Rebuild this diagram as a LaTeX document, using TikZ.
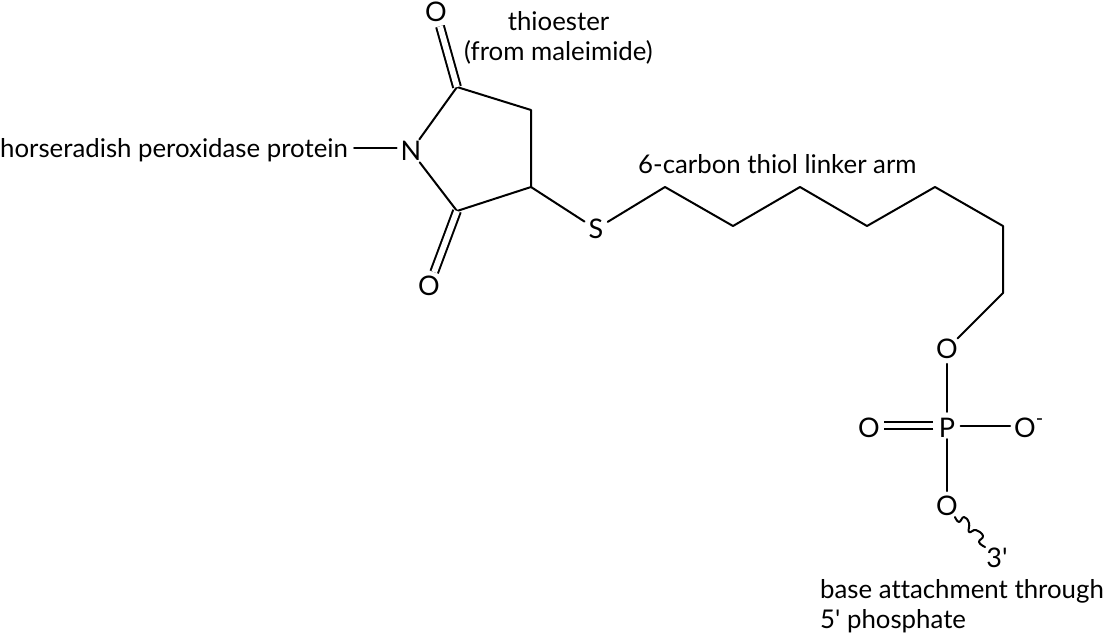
\documentclass[tikz,border=0pt]{standalone}
\usepackage{fontspec}
\setmainfont[Ligatures=NoCommon]{Lato}
\newcommand\lowr[1]{\raisebox{-2pt}[\height][\depth]{#1}}
\tikzset{
  atom/.style={circle,minimum size=27pt,inner sep=0pt,font=\fontsize{27}{30}\selectfont},
  caption/.style={inner sep=0pt,text=black,font=\fontsize{25.8}{30}\selectfont},
  bond/.style={line width=2pt,line cap=round,line join=round},
  dbond/.style={line width=2pt,double,double distance=5.8pt,line cap=butt}
}
\begin{document}
\begin{tikzpicture}[x=1pt,y=-1pt]
\useasboundingbox (0,0) rectangle (1105,638);
% atoms
\node[atom] (N) at (411,151) {N};
\node[atom] (Ot) at (436,12) {O};
\node[atom] (Ob) at (429,286) {O};
\node[atom] (S) at (596,229) {S};
\node[atom] (O1) at (947,349) {O};
\node[atom] (P) at (947,425.5) {\lowr{P}};
\node[atom] (Ol) at (869,425.5) {\lowr{O}};
\node[atom] (Or) at (1025,425.5) {\lowr{O}\rlap{\raisebox{10pt}{\fontsize{20}{20}\selectfont -}}};
\node[atom] (O2) at (947,506) {O};
\node[atom] (three) at (997,558) {3\textquotesingle};
% carbons
\coordinate (c1) at (457,87);
\coordinate (c2) at (531,110);
\coordinate (c3) at (531,187);
\coordinate (c4) at (457,211);
\coordinate (a1) at (665,187);
\coordinate (a2) at (733,226);
\coordinate (a3) at (800,187);
\coordinate (a4) at (867,226);
\coordinate (a5) at (935,187);
\coordinate (a6) at (1003,226);
\coordinate (a7) at (1003,293);
\coordinate (w1) at (955,517);
\coordinate (w2) at (985,547);
% captions
\node[caption,anchor=west] (hrp) at (0,150) {horseradish peroxidase protein};
\node[caption,align=center] (thio) at (558.5,38) {thioester\\(from maleimide)};
\node[caption,anchor=west] (arm) at (638,164) {6-carbon thiol linker arm};
\node[caption,align=left,anchor=west] (base) at (820,606.5) {base attachment through\\5\textquotesingle{} phosphate};
\coordinate (hb) at ([shift={(6,-2)}]hrp.east);
% bonds
\draw[bond] (hb) -- (hb -| N.west);
\draw[bond] (N) -- (c1) -- (c2) -- (c3) -- (c4) -- (N);
\draw[bond] (c3) -- (S) -- (a1) -- (a2) -- (a3) -- (a4) -- (a5) -- (a6) -- (a7) -- (O1);
\draw[dbond] (c1) -- (Ot);
\draw[dbond] (c4) -- (Ob);
\draw[bond] (O1) -- (P);
\draw[bond] (P) -- (Or);
\draw[bond] (P) -- (O2);
\draw[dbond] (P) -- (Ol);
\draw[bond] plot[smooth,tension=0.8] coordinates {(w1) (959,522) (964,517) (969,523) (969,532) (976,530) (983,536) (979,542) (w2)};
\end{tikzpicture}
\end{document}
